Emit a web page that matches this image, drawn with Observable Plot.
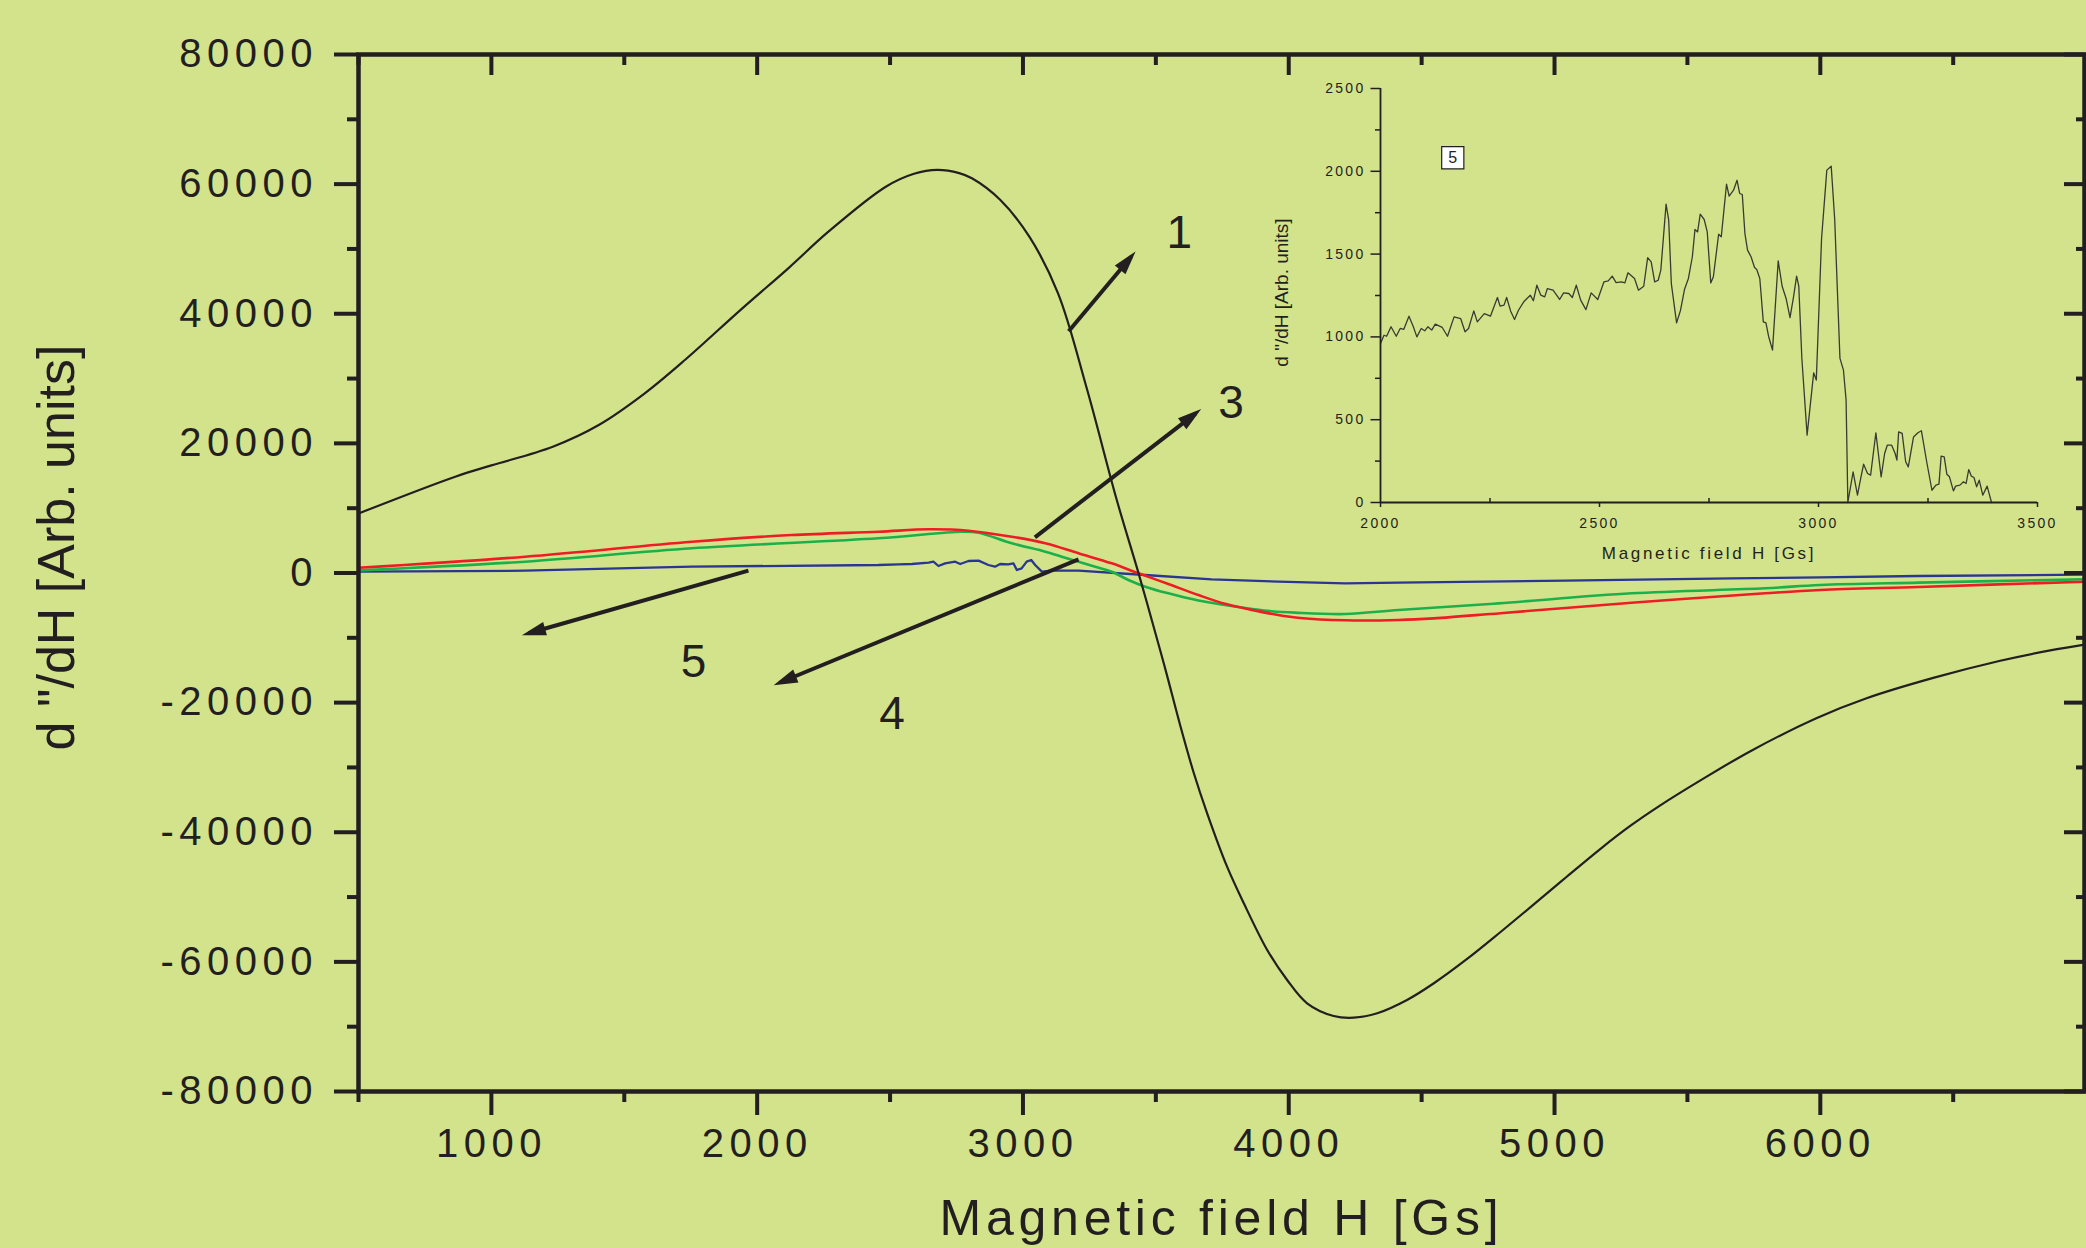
<!DOCTYPE html>
<html>
<head>
<meta charset="utf-8">
<script src="https://cdn.jsdelivr.net/npm/d3@7"></script>
<script src="https://cdn.jsdelivr.net/npm/@observablehq/plot@0.6"></script>
<style>
html, body { margin: 0; padding: 0; background: #d3e38b; }
#wrap { position: relative; width: 2086px; height: 1248px; overflow: hidden; background: #d3e38b; }
#inset { position: absolute; left: 1260px; top: 60px; }
.mainplot g[aria-label="x-axis tick label"], .mainplot g[aria-label="y-axis tick label"] { letter-spacing: 5.5px; }
.insetplot g[aria-label="x-axis tick label"], .insetplot g[aria-label="y-axis tick label"] { letter-spacing: 2.3px; }
g[aria-description="main-x-title"] { letter-spacing: 4.75px; }
g[aria-description="inset-x-title"] { letter-spacing: 2.7px; }
</style>
</head>
<body>
<div id="wrap"><div id="main"></div><div id="inset"></div></div>
<script>
// ---------- DATA ----------
// Curve 1 (black)
const s1H = [500, 864, 1000, 1231, 1404, 1577, 1728, 1944, 2117, 2268, 2484, 2590, 2678, 2760, 2808, 2915, 3024, 3132, 3240, 3353, 3435, 3516, 3542, 3593, 3643, 3693, 3768, 3831, 3919, 3994, 4069, 4169, 4245, 4333, 4445, 4546, 4671, 4797, 4922, 5047, 5173, 5286, 5398, 5549, 5737, 5985, 6174, 6425, 6677, 6865, 6994];
const s1V = [9180, 14860, 16600, 19490, 22835, 27720, 32860, 40840, 47010, 52660, 59600, 61600, 62200, 61700, 60900, 57550, 51890, 43150, 28500, 11263, -50, -11880, -15800, -23710, -30900, -37080, -45310, -50960, -58170, -62800, -66390, -68350, -68610, -67930, -65880, -63300, -59550, -55390, -51140, -46830, -42550, -38990, -35850, -32000, -27490, -22410, -19330, -16190, -13540, -11940, -11040];
// Curve 3 (red)
const s3H = [500, 1127, 1754, 2130, 2456, 2645, 2795, 2958, 3084, 3209, 3334, 3435, 3547, 3660, 3760, 3856, 3950, 4044, 4212, 4413, 4546, 4797, 5290, 5792, 6000, 6369, 6994];
const s3V = [800, 2515, 4830, 5860, 6375, 6740, 6530, 5600, 4580, 3035, 1491, -50, -1700, -3400, -4750, -5650, -6400, -6950, -7300, -7250, -7000, -6200, -4600, -3135, -2620, -2150, -1340];
// Curve 4 (green)
const s4H = [500, 1127, 1754, 2456, 2770, 2833, 2958, 3084, 3146, 3272, 3334, 3397, 3460, 3547, 3660, 3760, 3870, 3936, 4024, 4212, 4413, 4789, 5290, 5792, 6000, 6369, 6994];
const s4V = [400, 1745, 3810, 5350, 6375, 6220, 4580, 3291, 2520, 977, 200, -1080, -2110, -3137, -4250, -4950, -5600, -5900, -6120, -6330, -5710, -4680, -3135, -2360, -1850, -1490, -975];
// Curve 5 (blue)
const s5H = [500, 1127, 1754, 2456, 2532, 2582, 2645, 2663, 2682, 2707, 2745, 2764, 2795, 2833, 2870, 2895, 2914, 2945, 2964, 2977, 2995, 3014, 3031, 3046, 3071, 3108, 3209, 3460, 3710, 3961, 4212, 4413, 5040, 5667, 6000, 6369, 6994];
const s5V = [200, 355, 977, 1234, 1337, 1389, 1594, 1748, 1080, 1491, 1748, 1389, 1851, 1903, 1234, 977, 1389, 1337, 1491, 463, 720, 1748, 2006, 1234, 206, 360, 355, -310, -975, -1340, -1590, -1500, -1180, -820, -670, -460, -260];
// Inset: curve 5, 2000-3500 Gs
const insH = [2000, 2008, 2014, 2024, 2036, 2045, 2053, 2065, 2075, 2083, 2093, 2101, 2108, 2117, 2125, 2141, 2153, 2168, 2183, 2193, 2201, 2213, 2221, 2237, 2251, 2267, 2273, 2282, 2288, 2297, 2306, 2315, 2327, 2342, 2349, 2357, 2366, 2375, 2381, 2394, 2409, 2418, 2430, 2438, 2447, 2457, 2469, 2481, 2496, 2510, 2520, 2529, 2538, 2550, 2558, 2565, 2580, 2589, 2601, 2610, 2618, 2626, 2634, 2640, 2652, 2658, 2664, 2676, 2685, 2694, 2703, 2712, 2718, 2724, 2730, 2739, 2746, 2754, 2760, 2772, 2778, 2790, 2796, 2806, 2814, 2820, 2826, 2832, 2838, 2846, 2854, 2859, 2866, 2874, 2880, 2886, 2895, 2908, 2917, 2926, 2935, 2943, 2950, 2955, 2962, 2974, 2989, 2995, 3007, 3019, 3029, 3037, 3049, 3057, 3063, 3067, 3079, 3089, 3097, 3103, 3112, 3119, 3131, 3143, 3151, 3157, 3167, 3175, 3179, 3183, 3191, 3199, 3205, 3217, 3227, 3235, 3247, 3259, 3268, 3275, 3280, 3287, 3293, 3299, 3308, 3313, 3323, 3331, 3337, 3343, 3349, 3355, 3361, 3367, 3375, 3385, 3395];
const insV = [960, 1010, 1004, 1061, 1004, 1051, 1045, 1125, 1061, 1000, 1051, 1037, 1061, 1041, 1077, 1057, 1004, 1121, 1111, 1031, 1051, 1157, 1091, 1141, 1125, 1238, 1186, 1192, 1238, 1157, 1105, 1161, 1212, 1252, 1218, 1312, 1252, 1242, 1292, 1282, 1226, 1266, 1262, 1238, 1312, 1222, 1165, 1266, 1226, 1332, 1338, 1367, 1328, 1332, 1326, 1387, 1353, 1282, 1306, 1479, 1453, 1332, 1342, 1403, 1802, 1705, 1322, 1085, 1161, 1286, 1353, 1484, 1649, 1634, 1741, 1709, 1634, 1326, 1363, 1620, 1604, 1922, 1850, 1886, 1946, 1866, 1860, 1624, 1524, 1484, 1419, 1407, 1353, 1091, 1085, 1004, 920, 1459, 1306, 1232, 1117, 1242, 1367, 1306, 870, 407, 783, 739, 1594, 2007, 2031, 1709, 870, 799, 618, 0, 185, 44, 155, 231, 175, 165, 421, 155, 296, 346, 346, 296, 256, 427, 417, 246, 215, 396, 421, 433, 246, 74, 105, 111, 280, 276, 171, 155, 70, 99, 105, 125, 115, 199, 159, 151, 95, 135, 44, 99, 0];

// Axis ticks
const xMajor = [1000, 2000, 3000, 4000, 5000, 6000];
const xMinor = [500, 1500, 2500, 3500, 4500, 5500, 6500];
const yMajor = [-80000, -60000, -40000, -20000, 0, 20000, 40000, 60000, 80000];
const yMinor = [-70000, -50000, -30000, -10000, 10000, 30000, 50000, 70000];
const insXMajor = [2000, 2500, 3000, 3500];
const insXMinor = [2250, 2750, 3250];
const insYMajor = [0, 500, 1000, 1500, 2000, 2500];
const insYMinor = [250, 750, 1250, 1750, 2250];

// Annotations: arrows (tail -> head) and curve numbers, in data units
const arrowFromH = [3172, 3045, 3209, 1967];
const arrowFromV = [37290, 5505, 2110, 355];
const arrowToH = [3407, 3650, 2086, 1140];
const arrowToV = [48790, 24640, -16895, -9300];
const curveNames = ["1", "3", "4", "5"];
const nameH = [3588, 3783, 2507, 1761];
const nameV = [52490, 26214, -21816, -13809];

const xTitle = "Magnetic field H [Gs]";
const yTitle = "d \"/dH [Arb. units]";
const insetTag = "5";
const insetTagH = 2165;
const insetTagV = 2082;

// ---------- build tables ----------
const toRows = (H, V) => H.map((h, i) => ({H: h, V: V[i]}));
const c1 = toRows(s1H, s1V), c3 = toRows(s3H, s3V), c4 = toRows(s4H, s4V), c5 = toRows(s5H, s5V);
const ins = toRows(insH, insV);
const arrows = arrowFromH.map((h, i) => ({x1: h, y1: arrowFromV[i], x2: arrowToH[i], y2: arrowToV[i]}));
const names = curveNames.map((t, i) => ({t, H: nameH[i], V: nameV[i]}));

const ink = "#231f20";
const font = "'Liberation Sans', Arial, sans-serif";
const noText = () => "";

const main = Plot.plot({
  width: 2086, height: 1248,
  marginLeft: 358, marginRight: 2, marginTop: 54, marginBottom: 157,
  className: "mainplot",
  style: {background: "transparent", fontFamily: font, color: ink, overflow: "visible"},
  x: {domain: [500, 6994], label: null},
  y: {domain: [-80000, 80000], label: null},
  marks: [
    Plot.line(c5, {x: "H", y: "V", stroke: "#2b3592", strokeWidth: 2.3}),
    Plot.line(c4, {x: "H", y: "V", stroke: "#1cb04b", strokeWidth: 2.6, curve: "catmull-rom"}),
    Plot.line(c3, {x: "H", y: "V", stroke: "#ee1d25", strokeWidth: 2.6, curve: "catmull-rom"}),
    Plot.line(c1, {x: "H", y: "V", stroke: ink, strokeWidth: 2.2, curve: "catmull-rom"}),
    Plot.frame({stroke: ink, strokeWidth: 4.5}),
    Plot.axisX(xMajor, {anchor: "bottom", tickSize: 24, tickPadding: 13, strokeWidth: 4, fontSize: 40, tickFormat: d => String(d), label: null}),
    Plot.axisX(xMinor, {anchor: "bottom", tickSize: 11, strokeWidth: 4, tickFormat: noText, label: null}),
    Plot.axisX(xMajor, {anchor: "top", tickSize: -20, strokeWidth: 4, tickFormat: noText, label: null}),
    Plot.axisX(xMinor, {anchor: "top", tickSize: -10, strokeWidth: 4, tickFormat: noText, label: null}),
    Plot.axisY(yMajor, {anchor: "left", tickSize: 24, tickPadding: 16.5, strokeWidth: 4, fontSize: 40, tickFormat: d => String(d), label: null}),
    Plot.axisY(yMinor, {anchor: "left", tickSize: 11, strokeWidth: 4, tickFormat: noText, label: null}),
    Plot.axisY(yMajor, {anchor: "right", tickSize: -21, strokeWidth: 4, tickFormat: noText, label: null}),
    Plot.axisY(yMinor, {anchor: "right", tickSize: -9, strokeWidth: 4, tickFormat: noText, label: null}),
    Plot.text([xTitle], {frameAnchor: "bottom", lineAnchor: "bottom", dy: 143, fontSize: 50, fill: ink, ariaDescription: "main-x-title"}),
    Plot.text([yTitle], {frameAnchor: "left", textAnchor: "middle", rotate: -90, lineAnchor: "middle", dx: -301, dy: -25.5, fontSize: 52, fill: ink}),
    Plot.link(arrows, {x1: "x1", y1: "y1", x2: "x2", y2: "y2", stroke: ink, strokeWidth: 4, markerEnd: "arrow"}),
    Plot.text(names, {x: "H", y: "V", text: "t", fontSize: 46, fill: ink})
  ]
});
// filled arrow heads
main.querySelectorAll("marker").forEach(m => {
  m.setAttribute("viewBox", "-7 -5 10 10");
  m.setAttribute("fill", ink);
  m.setAttribute("stroke", "none");
  const p = m.querySelector("path");
  if (p) p.setAttribute("d", "M-6.4,-2.6L2.6,0L-6.4,2.6Z");
});
document.getElementById("main").appendChild(main);

const inset = Plot.plot({
  width: 800, height: 520,
  marginLeft: 120, marginRight: 23, marginTop: 28, marginBottom: 78,
  className: "insetplot",
  style: {background: "transparent", fontFamily: font, color: ink, overflow: "visible"},
  x: {domain: [2000, 3500], label: null},
  y: {domain: [0, 2500], label: null},
  marks: [
    Plot.line(ins, {x: "H", y: "V", stroke: "#3a3a33", strokeWidth: 1.3}),
    Plot.ruleY([0], {stroke: ink, strokeWidth: 1.8}),
    Plot.ruleX([2000], {stroke: ink, strokeWidth: 1.8}),
    Plot.axisX(insXMajor, {anchor: "bottom", tickSize: 5, tickPadding: 11, strokeWidth: 1.5, fontSize: 14, tickFormat: d => String(d), label: null}),
    Plot.axisX(insXMinor, {anchor: "bottom", tickSize: -4, strokeWidth: 1.5, tickFormat: noText, label: null}),
    Plot.axisY(insYMajor, {anchor: "left", tickSize: 9.5, tickPadding: 5.5, strokeWidth: 1.5, fontSize: 14, tickFormat: d => String(d), label: null}),
    Plot.axisY(insYMinor, {anchor: "left", tickSize: 5, strokeWidth: 1.5, tickFormat: noText, label: null}),
    Plot.text([xTitle], {frameAnchor: "bottom", lineAnchor: "bottom", dy: 56, fontSize: 17, fill: ink, ariaDescription: "inset-x-title"}),
    Plot.text([yTitle], {frameAnchor: "left", textAnchor: "middle", rotate: -90, lineAnchor: "middle", dx: -99, dy: -3, fontSize: 19, fill: ink}),
    Plot.dot([{H: insetTagH, V: insetTagV}], {x: "H", y: "V", symbol: "square", r: 12.5, fill: "white", stroke: ink, strokeWidth: 1.2}),
    Plot.text([{H: insetTagH, V: insetTagV, t: insetTag}], {x: "H", y: "V", text: "t", fontSize: 16, fill: ink})
  ]
});
document.getElementById("inset").appendChild(inset);
</script>
</body>
</html>
